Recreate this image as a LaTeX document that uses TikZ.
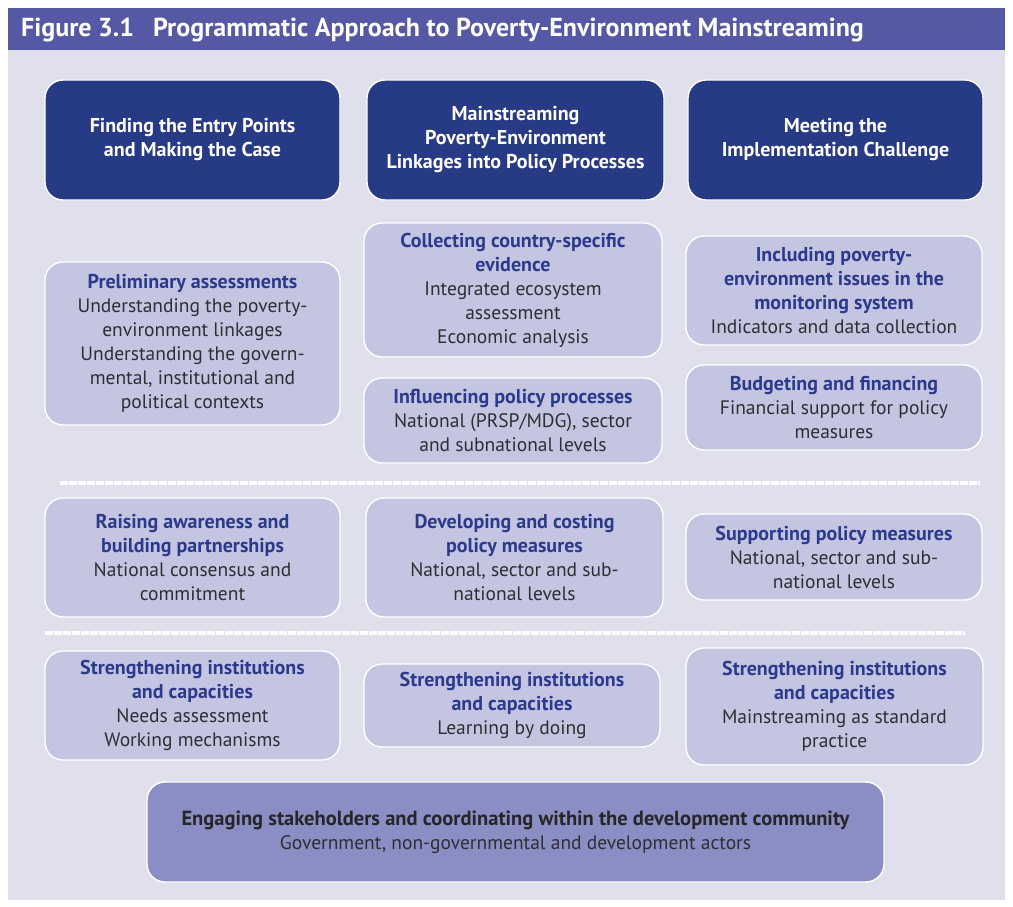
\documentclass[tikz,border=0pt]{standalone}
\usepackage{fontspec}
\setmainfont{PT Sans}
\definecolor{barcol}{HTML}{5558A4}
\definecolor{panelcol}{HTML}{DFE0EC}
\definecolor{navy}{HTML}{263A85}
\definecolor{lav}{HTML}{C4C5E1}
\definecolor{lavdark}{HTML}{8B8DC5}
\definecolor{hdblue}{HTML}{2B3A8E}
\definecolor{bodygray}{HTML}{2E2E33}
\tikzset{
  base/.style={rounded corners=18pt, draw=white, line width=1.4pt, align=center, inner sep=2pt,
    font=\fontsize{19.5}{24}\selectfont},
  headbox/.style={base, fill=navy, text=white, font=\fontsize{20}{24}\selectfont\bfseries},
  itembox/.style={base, fill=lav, text=bodygray},
  mainbox/.style={base, fill=lavdark, text=bodygray},
  sepline/.style={draw=white, line width=4.5pt, dash pattern=on 8pt off 1pt},
}
\newcommand{\hd}[1]{{\color{hdblue}\bfseries\fontsize{20}{24}\selectfont #1}}
\begin{document}
\begin{tikzpicture}[x=1pt, y=-1pt]
\useasboundingbox (0,0) rectangle (1013,907);
\fill[white] (0,0) rectangle (1013,907);
% panel and title bar
\fill[panelcol] (8,8) rectangle (1005,900);
\fill[barcol] (8,8) rectangle (1005,50);
\node[anchor=west, text=white, font=\fontsize{26}{28}\selectfont\bfseries, inner sep=0pt] (title) at (21,30)
  {Figure 3.1\hspace{19pt}Programmatic Approach to Poverty-Environment Mainstreaming};

% column headers
\node[headbox, minimum width=295, minimum height=120] (h1) at (192.5,140)
  {Finding the Entry Points\\and Making the Case};
\node[headbox, minimum width=297, minimum height=120] (h2) at (515.5,140)
  {Mainstreaming\\Poverty-Environment\\Linkages into Policy Processes};
\node[headbox, minimum width=295, minimum height=120] (h3) at (835.5,140)
  {Meeting the\\Implementation Challenge};

% first block
\node[itembox, minimum width=295, minimum height=163] (pre) at (192.5,343.5)
  {\hd{Preliminary assessments}\\Understanding the poverty-\\environment linkages\\Understanding the govern-\\mental, institutional and\\political contexts};
\node[itembox, minimum width=298, minimum height=134] (col) at (513,290)
  {\hd{Collecting country-specific}\\\hd{evidence}\\Integrated ecosystem\\assessment\\Economic analysis};
\node[itembox, minimum width=298, minimum height=85] (inf) at (513,420.5)
  {\hd{Influencing policy processes}\\National (PRSP/MDG), sector\\and subnational levels};
\node[itembox, minimum width=296, minimum height=109] (inc) at (834,290.5)
  {\hd{Including poverty-}\\\hd{environment issues in the}\\\hd{monitoring system}\\Indicators and data collection};
\node[itembox, minimum width=296, minimum height=85] (bud) at (834,407.5)
  {\hd{Budgeting and financing}\\Financial support for policy\\measures};

\draw[sepline] (60,483) -- (980,483);

% second block
\node[itembox, minimum width=295, minimum height=119] (rai) at (192.5,557.5)
  {\hd{Raising awareness and}\\\hd{building partnerships}\\National consensus and\\commitment};
\node[itembox, minimum width=297, minimum height=119] (dev) at (514.5,557.5)
  {\hd{Developing and costing}\\\hd{policy measures}\\National, sector and sub-\\national levels};
\node[itembox, minimum width=296, minimum height=86] (sup) at (834,557)
  {\hd{Supporting policy measures}\\National, sector and sub-\\national levels};

\draw[sepline] (45,633) -- (965,633);

% third block
\node[itembox, minimum width=295, minimum height=109] (s1) at (192.5,705.5)
  {\hd{Strengthening institutions}\\\hd{and capacities}\\Needs assessment\\Working mechanisms};
\node[itembox, minimum width=296, minimum height=83] (s2) at (512,705.5)
  {\hd{Strengthening institutions}\\\hd{and capacities}\\Learning by doing};
\node[itembox, minimum width=297, minimum height=117] (s3) at (834.5,706.5)
  {\hd{Strengthening institutions}\\\hd{and capacities}\\Mainstreaming as standard\\practice};

% bottom band
\node[mainbox, minimum width=737, minimum height=100] (eng) at (515.5,832)
  {{\color{black!85}\bfseries\fontsize{20.5}{24}\selectfont Engaging stakeholders and coordinating within the development community}\\Government, non-governmental and development actors};
\end{tikzpicture}
\end{document}
